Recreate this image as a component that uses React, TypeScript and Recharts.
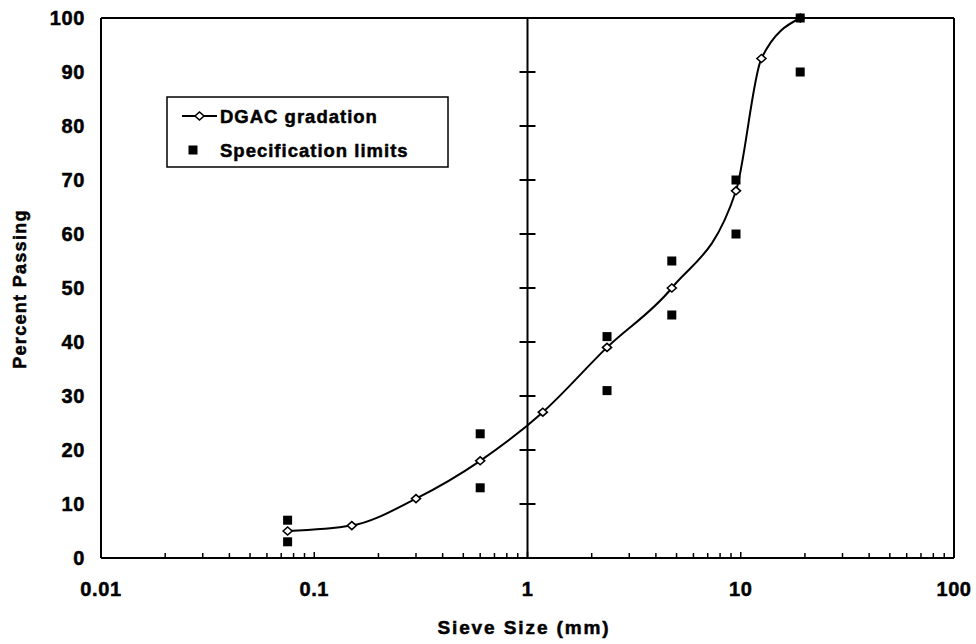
import { ComposedChart, Line, ReferenceLine, Scatter, XAxis, YAxis } from 'recharts'

// DGAC gradation curve
const sieveSizes = [0.075, 0.15, 0.3, 0.6, 1.18, 2.36, 4.75, 9.5, 12.5, 19]
const dgacPassing = [5, 6, 11, 18, 27, 39, 50, 68, 92.5, 100]

// specification limits (upper / lower at each control sieve)
const specSizes = [0.075, 0.075, 0.6, 0.6, 2.36, 2.36, 4.75, 4.75, 9.5, 9.5, 19, 19]
const specPassing = [7, 3, 23, 13, 41, 31, 55, 45, 70, 60, 100, 90]

const seriesNames = ['DGAC gradation', 'Specification limits']

const xDecades = [0.01, 0.1, 1, 10, 100]
const minorSteps = [2, 3, 4, 5, 6, 7, 8, 9]
const yTicks = [0, 10, 20, 30, 40, 50, 60, 70, 80, 90, 100]

const dgacData = sieveSizes.map((size, i) => ({ size, pct: dgacPassing[i] }))
const specData = specSizes.map((size, i) => ({ size, pct: specPassing[i] }))
const xTicks = xDecades.flatMap((d, i) =>
  i < xDecades.length - 1 ? [d, ...minorSteps.map((m) => +(d * m).toPrecision(3))] : [d],
)

const W = 976
const H = 644
const FONT = '"Liberation Sans", Arial, Helvetica, sans-serif'
// half-width of the tick marks on the x = 1 crossing line, as a ratio on the log axis
const CROSS_TICK = 1.09

// scanned print looks heavy, so the bold text gets a thin outline too
const textStyle = { fontFamily: FONT, fontWeight: 700, fill: '#000', stroke: '#000', strokeWidth: 0.5 }

function XTick(props: any) {
  const { x, y, payload } = props
  const v = payload.value
  const major = xDecades.includes(v)
  const edge = v === xDecades[0] || v === xDecades[xDecades.length - 1]
  return (
    <g>
      {!edge && (
        <line x1={x} x2={x} y1={y} y2={y - (major ? 6 : 5)} stroke="#000" strokeWidth={1.5} />
      )}
      {major && (
        <text x={x} y={y + 38} textAnchor="middle" fontSize={20} letterSpacing={0.6} style={textStyle}>
          {String(v)}
        </text>
      )}
    </g>
  )
}

function YTick(props: any) {
  const { x, y, payload } = props
  return (
    <text x={x} y={y} dy="0.36em" textAnchor="end" fontSize={20} letterSpacing={0.6} style={textStyle}>
      {payload.value}
    </text>
  )
}

function diamondDot(props: any) {
  const { cx, cy, index } = props
  return (
    <polygon
      key={`d-${index}`}
      points={`${cx - 4.5},${cy} ${cx},${cy - 4} ${cx + 4.5},${cy} ${cx},${cy + 4}`}
      fill="#fff"
      stroke="#000"
      strokeWidth={1.6}
    />
  )
}

function squareShape(props: any) {
  const { cx, cy } = props
  return <rect x={cx - 4.5} y={cy - 4.5} width={9} height={9} fill="#000" />
}

export default function App() {
  return (
    <div style={{ position: 'absolute', left: 0, top: 0, width: W, height: H, background: '#fff' }}>
      <ComposedChart width={W} height={H} margin={{ top: 18, right: 22, bottom: 56, left: 0 }}>
        <XAxis
          dataKey="size"
          type="number"
          scale="log"
          domain={[0.01, 100]}
          allowDataOverflow
          ticks={xTicks}
          interval={0}
          tick={<XTick />}
          tickLine={false}
          tickSize={0}
          tickMargin={0}
          height={30}
          axisLine={{ stroke: '#000', strokeWidth: 2 }}
        />
        <YAxis
          type="number"
          domain={[0, 100]}
          ticks={yTicks}
          interval={0}
          tick={<YTick />}
          tickLine={false}
          tickSize={0}
          tickMargin={16}
          width={101}
          axisLine={{ stroke: '#000', strokeWidth: 2 }}
        />
        <ReferenceLine y={100} stroke="#000" strokeWidth={2} />
        <ReferenceLine x={100} stroke="#000" strokeWidth={2} />
        <ReferenceLine x={1} stroke="#000" strokeWidth={2} />
        {yTicks.slice(1, -1).map((t) => (
          <ReferenceLine
            key={`yt-${t}`}
            segment={[
              { x: 1 / CROSS_TICK, y: t },
              { x: CROSS_TICK, y: t },
            ]}
            stroke="#000"
            strokeWidth={2}
          />
        ))}
        <Line
          data={dgacData}
          dataKey="pct"
          name={seriesNames[0]}
          type="monotone"
          stroke="#000"
          strokeWidth={2}
          dot={diamondDot}
          activeDot={false}
          isAnimationActive={false}
        />
        <Scatter
          data={specData}
          dataKey="pct"
          name={seriesNames[1]}
          shape={squareShape}
          isAnimationActive={false}
        />
      </ComposedChart>
      <svg
        width={W}
        height={H}
        style={{ position: 'absolute', left: 0, top: 0, pointerEvents: 'none' }}
      >
        {/* legend */}
        <rect x={167} y={97} width={281} height={70} fill="#fff" stroke="#000" strokeWidth={1.5} />
        <line x1={182} x2={217} y1={116} y2={116} stroke="#000" strokeWidth={2} />
        <polygon points="195,116 199.5,112 204,116 199.5,120" fill="#fff" stroke="#000" strokeWidth={1.6} />
        <text x={220} y={116} dy="0.36em" fontSize={18.5} letterSpacing={1} style={textStyle}>
          {seriesNames[0]}
        </text>
        <rect x={188.5} y={145.5} width={9} height={9} fill="#000" />
        <text x={220} y={150} dy="0.36em" fontSize={18.5} letterSpacing={1} style={textStyle}>
          {seriesNames[1]}
        </text>
        {/* axis titles */}
        <text x={524} y={627} dy="0.36em" textAnchor="middle" fontSize={19} letterSpacing={1.9} style={textStyle}>
          Sieve Size (mm)
        </text>
        <text
          x={20}
          y={289}
          dy="0.36em"
          textAnchor="middle"
          fontSize={18}
          letterSpacing={1.3}
          transform="rotate(-90 20 289)"
          style={textStyle}
        >
          Percent Passing
        </text>
      </svg>
    </div>
  )
}
